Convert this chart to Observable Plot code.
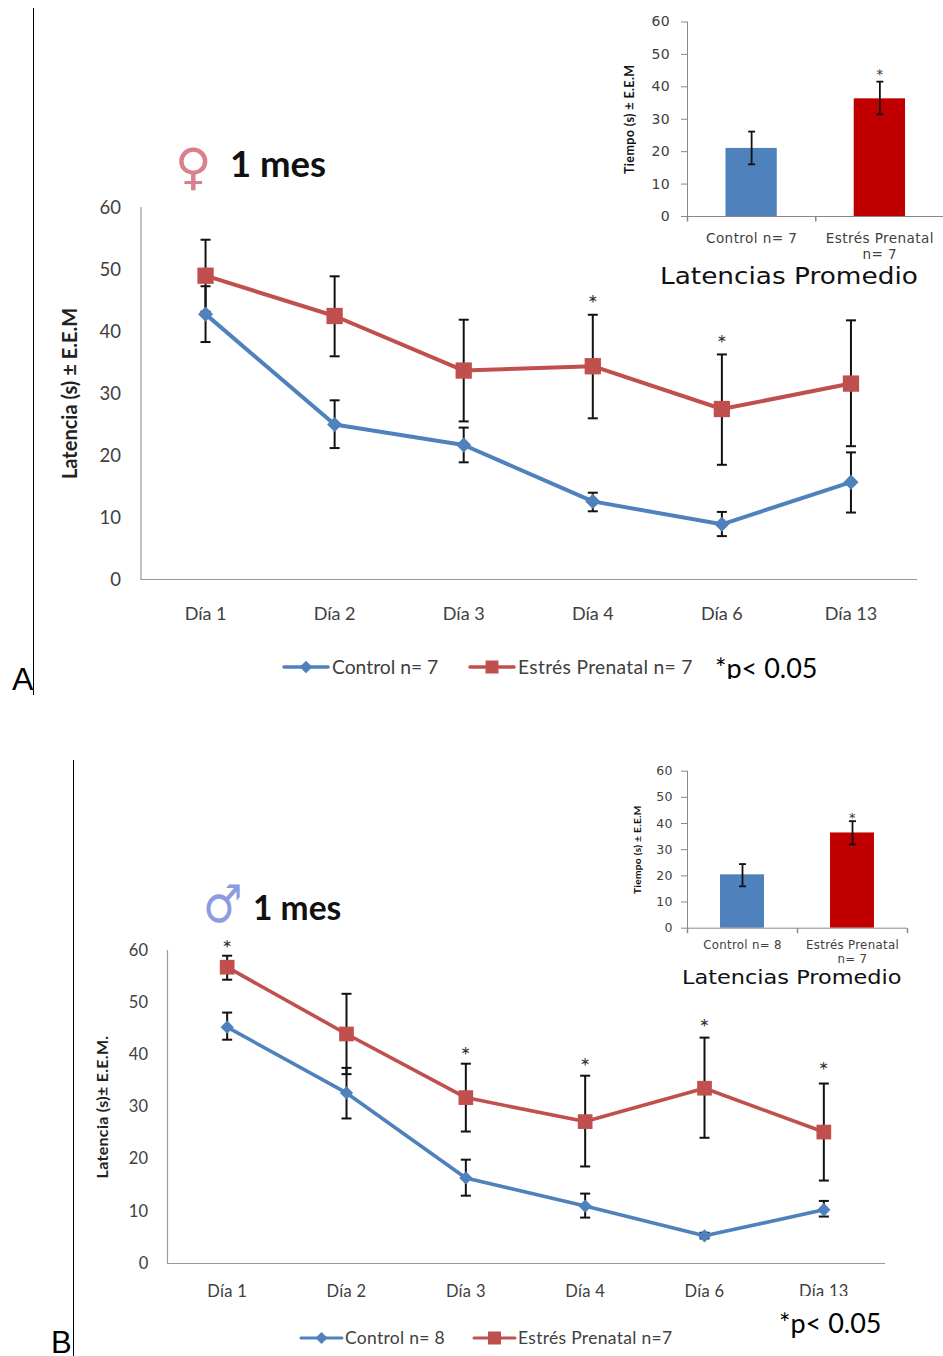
<!DOCTYPE html>
<html lang="es">
<head>
<meta charset="utf-8">
<script src="https://cdn.jsdelivr.net/npm/d3@7"></script>
<script src="https://cdn.jsdelivr.net/npm/@observablehq/plot@0.6"></script>
<style>
html,body{margin:0;padding:0;background:#fff;}
#page{position:relative;width:943px;height:1356px;overflow:hidden;background:#fff;font-family:Lato,sans-serif;}
.t{position:absolute;white-space:nowrap;line-height:1;}
.rule{position:absolute;width:1px;background:#000;}
svg.sw{position:absolute;overflow:visible;}
</style>
</head>
<body>
<div id="page"></div>
<script>
const BLUE = "#4F81BD", RED = "#C0504D", DARKRED = "#C00000", INK = "#404040";

const daysA = ["Día 1", "Día 2", "Día 3", "Día 4", "Día 6", "Día 13"];
const controlA = [42.8, 25, 21.7, 12.6, 8.9, 15.7];
const controlALow = [38.3, 21.2, 18.9, 11, 7, 10.8];
const controlAHigh = [47.3, 28.9, 24.5, 14, 10.9, 20.5];
const stressA = [49, 42.5, 33.7, 34.4, 27.5, 31.6];
const stressALow = [43.2, 36, 25.5, 26, 18.5, 21.5];
const stressAHigh = [54.8, 48.9, 41.9, 42.7, 36.3, 41.8];
const starDaysA = ["Día 4", "Día 6"];
const starLevelsA = [45, 38.5];

const daysB = ["Día 1", "Día 2", "Día 3", "Día 4", "Día 6", "Día 13"];
const controlB = [45.3, 32.7, 16.4, 11, 5.3, 10.3];
const controlBLow = [42.9, 27.8, 13, 8.8, 4.8, 9];
const controlBHigh = [48.1, 37.5, 19.9, 13.4, 5.9, 12];
const stressB = [56.8, 44, 31.8, 27.2, 33.6, 25.2];
const stressBLow = [54.4, 36.3, 25.3, 18.6, 24.1, 15.9];
const stressBHigh = [59, 51.7, 38.3, 36, 43.3, 34.5];
const starDaysB = ["Día 1", "Día 3", "Día 4", "Día 6", "Día 13"];
const starLevelsB = [61, 40.4, 38.3, 45.8, 37.7];

const groupsA = ["Control n= 7", "Estrés Prenatal\nn= 7"];
const meanA = [21, 36.3];
const meanALow = [16.1, 31.5];
const meanAHigh = [26.2, 41.6];
const groupsB = ["Control n= 8", "Estrés Prenatal\nn= 7"];
const meanB = [20.4, 36.4];
const meanBLow = [16, 32];
const meanBHigh = [24.5, 40.9];

const yTicks = [0, 10, 20, 30, 40, 50, 60];
const page = document.getElementById("page");

const cap = {draw(c, size){const r = Math.sqrt(size / Math.PI); c.moveTo(-r, 0); c.lineTo(r, 0);}};
const downTick = {draw(c, size){const r = Math.sqrt(size / Math.PI); c.moveTo(0, 0); c.lineTo(0, r);}};

function table(xs, v, lo, hi){ return xs.map((x, i) => ({x, v: v[i], lo: lo[i], hi: hi[i]})); }

function errorMarks(rows, r, w){
  return [
    Plot.ruleX(rows, {x: "x", y1: "lo", y2: "hi", stroke: "#111", strokeWidth: w}),
    Plot.dot(rows, {x: "x", y: "lo", r, symbol: cap, stroke: "#111", strokeWidth: w}),
    Plot.dot(rows, {x: "x", y: "hi", r, symbol: cap, stroke: "#111", strokeWidth: w})
  ];
}

function lineChart(o){
  const control = table(o.days, o.control, o.controlLow, o.controlHigh);
  const stress = table(o.days, o.stress, o.stressLow, o.stressHigh);
  const stars = o.starDays.map((x, i) => ({x, y: o.starLevels[i]}));
  const svg = Plot.plot({
    width: 943,
    height: o.marginTop + o.plotH + o.marginBottom,
    marginLeft: o.left, marginRight: 943 - o.right, marginTop: o.marginTop, marginBottom: o.marginBottom,
    style: {position: "absolute", left: "0px", top: o.top + "px", background: "transparent", overflow: "visible", fontFamily: "Lato, sans-serif", letterSpacing: o.spacing},
    x: {type: "point", domain: o.days, padding: 0.5, round: false, range: [o.left, o.right - 2], label: null},
    y: {domain: [0, 60], label: null},
    marks: [
      Plot.axisY({ticks: yTicks, tickSize: 0, tickPadding: o.yPad, fontSize: o.tickFont, fill: INK, label: null, dy: o.tickDy}),
      Plot.axisX({tickSize: 0, tickPadding: o.xPad, fontSize: o.xFont, fill: INK, label: null}),
      Plot.frame({anchor: "left", stroke: "#999", strokeWidth: 1.2}),
      Plot.ruleY([0], {stroke: "#999", strokeWidth: 1.2}),
      Plot.text([o.yLabel], {frameAnchor: "left", textAnchor: "middle", rotate: -90, dx: -o.yLabelOffset, fontSize: o.labelFont, fontWeight: 700, fill: "#222"}),
      ...errorMarks(control, 5, 2),
      ...errorMarks(stress, 5, 2),
      Plot.line(control, {x: "x", y: "v", stroke: BLUE, strokeWidth: o.lineW}),
      Plot.line(stress, {x: "x", y: "v", stroke: RED, strokeWidth: o.lineW}),
      Plot.dot(control, {x: "x", y: "v", symbol: "diamond2", r: o.rD, fill: BLUE}),
      Plot.dot(stress, {x: "x", y: "v", symbol: "square", r: o.rS, fill: RED}),
      Plot.text(stars, {x: "x", y: "y", text: () => "*", fontSize: 24, fill: "#333", dy: 4})
    ]
  });
  page.appendChild(svg);
}

function inset(o){
  const rows = table(o.groups, o.mean, o.low, o.high);
  const band = (o.right - o.left) / o.groups.length;
  const stars = [{x: o.groups[1], y: o.starLevel}];
  const svg = Plot.plot({
    width: o.right - o.left + 70,
    height: o.marginTop + o.plotH + o.marginBottom,
    marginLeft: 70, marginRight: 0, marginTop: o.marginTop, marginBottom: o.marginBottom,
    style: {position: "absolute", left: (o.left - 70) + "px", top: o.top + "px", background: "transparent", overflow: "visible", fontFamily: "'DejaVu Sans', sans-serif", letterSpacing: o.spacing, maxWidth: "none"},
    x: {type: "band", domain: o.groups, paddingInner: 0.6, paddingOuter: 0.3, round: false, label: null},
    y: {domain: [0, 60], label: null},
    marks: [
      Plot.axisY({ticks: yTicks, tickSize: 6, tickPadding: o.yPad, fontSize: o.tickFont, stroke: "#888", fill: INK, label: null}),
      Plot.axisX({tickSize: 0, tickPadding: o.xPad, fontSize: o.xFont, fill: INK, label: null, lineHeight: o.lineHeight}),
      Plot.frame({anchor: "left", stroke: "#888"}),
      Plot.barY(rows, {x: "x", y: "v", fill: (d, i) => i ? DARKRED : BLUE}),
      Plot.ruleY([0], {stroke: "#888"}),
      Plot.dot(o.groups, {x: d => d, frameAnchor: "bottom", symbol: downTick, r: 5, dx: -band / 2, stroke: "#888"}),
      Plot.dot(o.groups.slice(1), {x: d => d, frameAnchor: "bottom", symbol: downTick, r: 5, dx: band / 2, stroke: "#888"}),
      Plot.text([o.yLabel], {frameAnchor: "left", textAnchor: "middle", rotate: -90, dx: -o.yLabelOffset, fontSize: o.labelFont, fontWeight: 700, fontFamily: "Lato, sans-serif", fill: "#111"}),
      ...errorMarks(rows, 3.5, 1.8),
      Plot.text(stars, {x: "x", y: "y", text: () => "*", fontSize: o.starFont, fill: "#333", dy: 2})
    ]
  });
  page.appendChild(svg);
}

function text(str, left, top, css){
  const d = document.createElement("div");
  d.className = "t";
  d.textContent = str;
  d.style.left = left + "px";
  d.style.top = top + "px";
  Object.assign(d.style, css);
  page.appendChild(d);
  return d;
}
function vrule(left, top, h){
  const d = document.createElement("div");
  d.className = "rule";
  d.style.cssText = `left:${left}px;top:${top}px;height:${h}px;`;
  page.appendChild(d);
}
function whiteBox(left, top, w, h){
  const d = document.createElement("div");
  d.style.cssText = `position:absolute;left:${left}px;top:${top}px;width:${w}px;height:${h}px;background:#fff;`;
  page.appendChild(d);
}
function swatch(left, cy, w, color, shape, size, sw){
  const ns = "http://www.w3.org/2000/svg";
  const s = document.createElementNS(ns, "svg");
  s.setAttribute("class", "sw");
  s.setAttribute("width", w);
  s.setAttribute("height", 20);
  s.style.left = left + "px";
  s.style.top = (cy - 10) + "px";
  const l = document.createElementNS(ns, "line");
  l.setAttribute("x1", 1); l.setAttribute("x2", w - 1); l.setAttribute("y1", 10); l.setAttribute("y2", 10);
  l.setAttribute("stroke", color); l.setAttribute("stroke-width", sw); l.setAttribute("stroke-linecap", "round");
  s.appendChild(l);
  const m = document.createElementNS(ns, "rect");
  m.setAttribute("x", w / 2 - size / 2); m.setAttribute("y", 10 - size / 2);
  m.setAttribute("width", size); m.setAttribute("height", size); m.setAttribute("fill", color);
  if (shape === "diamond") m.setAttribute("transform", `rotate(45 ${w / 2} 10)`);
  s.appendChild(m);
  page.appendChild(s);
}

lineChart({
  days: daysA, control: controlA, controlLow: controlALow, controlHigh: controlAHigh,
  stress: stressA, stressLow: stressALow, stressHigh: stressAHigh,
  starDays: starDaysA, starLevels: starLevelsA,
  top: 180, marginTop: 27, plotH: 372, marginBottom: 60, left: 140.5, right: 917,
  yPad: 20, tickDy: 1, xPad: 28, tickFont: 18.5, xFont: 18, labelFont: 20, yLabel: "Latencia (s) ± E.E.M", yLabelOffset: 70,
  lineW: 4, rD: 6.8, rS: 9.2, spacing: "0"
});
lineChart({
  days: daysB, control: controlB, controlLow: controlBLow, controlHigh: controlBHigh,
  stress: stressB, stressLow: stressBLow, stressHigh: stressBHigh,
  starDays: starDaysB, starLevels: starLevelsB,
  top: 920, marginTop: 30, plotH: 313, marginBottom: 50, left: 167, right: 885,
  yPad: 19, tickDy: 0, xPad: 22, tickFont: 16.5, xFont: 16.5, labelFont: 16, yLabel: "Latencia (s)± E.E.M.", yLabelOffset: 65,
  lineW: 3.6, rD: 6, rS: 8.3, spacing: "0.3px"
});
inset({
  groups: groupsA, mean: meanA, low: meanALow, high: meanAHigh, starLevel: 44.4,
  left: 686.5, right: 943, top: 10, marginTop: 11.5, plotH: 194.5, marginBottom: 60,
  yPad: 11.5, xPad: 15, tickFont: 14, xFont: 13.6, lineHeight: 1.2, labelFont: 12.5, yLabel: "Tiempo (s) ± E.E.M", yLabelOffset: 58, starFont: 14, spacing: "0.4px"
});
inset({
  groups: groupsB, mean: meanB, low: meanBLow, high: meanBHigh, starLevel: 43,
  left: 686.7, right: 906.7, top: 760, marginTop: 10.7, plotH: 157, marginBottom: 50,
  yPad: 8.7, xPad: 10.5, tickFont: 12.5, xFont: 11.8, lineHeight: 1.2, labelFont: 10.2, yLabel: "Tiempo (s) ± E.E.M", yLabelOffset: 50, starFont: 13, spacing: "0.3px"
});

vrule(33, 8, 687);
vrule(73, 760, 596);
text("A", 12, 663, {fontFamily: "'Liberation Sans', sans-serif", fontSize: "32px", color: "#000"});
text("B", 51, 1331, {fontFamily: "'Liberation Sans', sans-serif", fontSize: "31px", color: "#000", lineHeight: "24px"});

text("♀", 175, 142, {fontFamily: "'DejaVu Sans', sans-serif", fontSize: "50px", color: "#D9808C"});
text("1 mes", 230, 145, {fontWeight: "700", fontSize: "36.5px", color: "#111"});
text("♂", 203, 878, {fontFamily: "'DejaVu Sans', sans-serif", fontSize: "52px", color: "#8D9BE0", transform: "scaleX(0.85)", transformOrigin: "left center"});
text("1 mes", 253, 891, {fontWeight: "700", fontSize: "33.5px", color: "#111"});

text("Latencias Promedio", 660, 265, {fontFamily: "'DejaVu Sans', sans-serif", fontSize: "23px", color: "#111", transform: "scaleX(1.145)", transformOrigin: "left center"});
text("Latencias Promedio", 682, 968, {fontFamily: "'DejaVu Sans', sans-serif", fontSize: "19.5px", color: "#111", transform: "scaleX(1.15)", transformOrigin: "left center"});

swatch(283, 667, 46, BLUE, "diamond", 9, 3.6);
text("Control n= 7", 332, 657, {fontSize: "19.3px", color: INK});
swatch(469, 667, 46, RED, "square", 13, 3.6);
text("Estrés Prenatal n= 7", 518, 657, {fontSize: "19.3px", color: INK, letterSpacing: "0.3px"});
text("*p< 0.05", 715, 653, {fontSize: "27px", color: "#000", height: "26px", overflow: "hidden", lineHeight: "30px"});

swatch(300, 1337.5, 43, BLUE, "diamond", 8.5, 3);
text("Control n= 8", 345, 1329, {fontSize: "17.5px", color: INK, letterSpacing: "0.3px"});
swatch(473, 1337.5, 43, RED, "square", 13, 3);
text("Estrés Prenatal n=7", 518, 1329, {fontSize: "17.5px", color: INK, letterSpacing: "0.3px"});
text("*p< 0.05", 779, 1309, {fontSize: "27px", color: "#000"});

whiteBox(790, 1295.5, 70, 6);
</script>
</body>
</html>
